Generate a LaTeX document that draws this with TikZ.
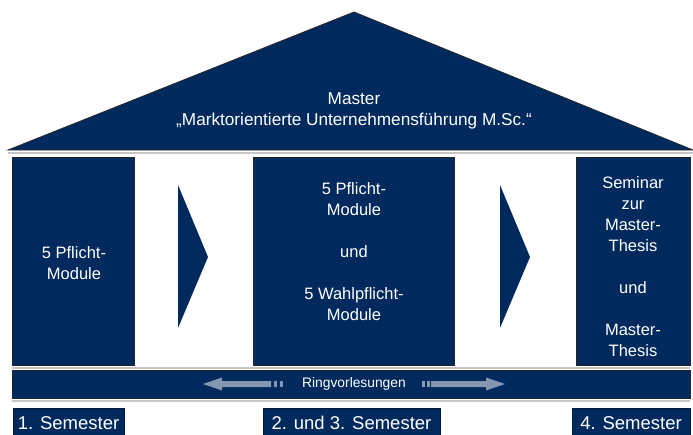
\documentclass[tikz,border=0pt]{standalone}
\usepackage{fontspec}
\setmainfont{Liberation Sans}

\definecolor{navy}{HTML}{002A5E}
\definecolor{ringgray}{HTML}{8397B1}

\tikzset{
  pillar/.style={draw=black!85, line width=0.8pt, fill=navy, inner sep=0pt},
  pillartext/.style={text=white, align=center, inner sep=0pt, font=\fontsize{16.5}{21}\selectfont},
  semlabel/.style={draw=navy!60!black, line width=0.5pt, fill=navy, text=white,
    inner sep=0pt, minimum height=30pt, font=\fontsize{18.5}{20}\selectfont},
  shadowline/.style={gray!45, line width=1.2pt},
  chevron/.style={fill=navy},
  ringarrow/.style={fill=ringgray}
}

\begin{document}
\begin{tikzpicture}[x=1pt, y=-1pt]

\useasboundingbox (0,0) rectangle (693,434);

% roof
\draw[shadowline] (8,153) -- (693,153);
\draw[fill=navy, draw=black!85, line width=0.8pt] (8,150) coordinate (roofL) -- (354,12) coordinate (apex) -- (693,150) coordinate (roofR) -- cycle;
\node[text=white, align=center, font=\fontsize{17.2}{21}\selectfont] (master) at (354,111)
  {Master\\\char"201E Marktorientierte Unternehmensführung M.Sc.\char"201C};

% pillars
\draw[shadowline] (12,368) -- (690,368);
\node[pillar, minimum width=122pt, minimum height=208pt] (sem1) at (73,261) {};
\node[pillar, minimum width=201pt, minimum height=208pt] (sem23) at (353.5,261) {};
\node[pillar, minimum width=114pt, minimum height=208pt] (sem4) at (633,261) {};
\node[pillartext] (txt1) at (74,263) {5 Pflicht-\\Module};
\node[pillartext] (txt23) at (354,252) {5 Pflicht-\\Module\\[21pt]und\\[21pt]5 Wahlpflicht-\\Module};
\node[pillartext] (txt4) at (633,267)
  {Seminar\\zur\\Master-\\Thesis\\[21pt]und\\[21pt]Master-\\Thesis};

% chevrons
\fill[chevron] (178,185) -- (208,257) -- (178,328) -- cycle;
\fill[chevron] (500,185) -- (530,257) -- (500,328) -- cycle;

% ring lectures
\draw[shadowline] (12,401) -- (690,401);
\node[pillar, minimum width=678pt, minimum height=28pt] (ring) at (351,384) {};
\node[text=white, font=\fontsize{13.8}{15}\selectfont] (ringtext) at (354,384) {Ringvorlesungen};
\fill[ringarrow] (203,384) -- (222,377.5) -- (222,381) -- (271,381) -- (271,387) -- (222,387) -- (222,390.5) -- cycle;
\fill[ringarrow] (274,381) rectangle (277,387);
\fill[ringarrow] (280,381) rectangle (283,387);
\fill[ringarrow] (505,384) -- (486,377.5) -- (486,381) -- (431,381) -- (431,387) -- (486,387) -- (486,390.5) -- cycle;
\fill[ringarrow] (422,381) rectangle (425,387);
\fill[ringarrow] (427,381) rectangle (430,387);

% semester labels
\node[semlabel, minimum width=111pt] (lab1) at (68.5,423) {1. Semester};
\node[semlabel, minimum width=177pt] (lab23) at (351.5,423) {2. und 3. Semester};
\node[semlabel, minimum width=118pt] (lab4) at (631,423) {4. Semester};

\end{tikzpicture}
\end{document}
